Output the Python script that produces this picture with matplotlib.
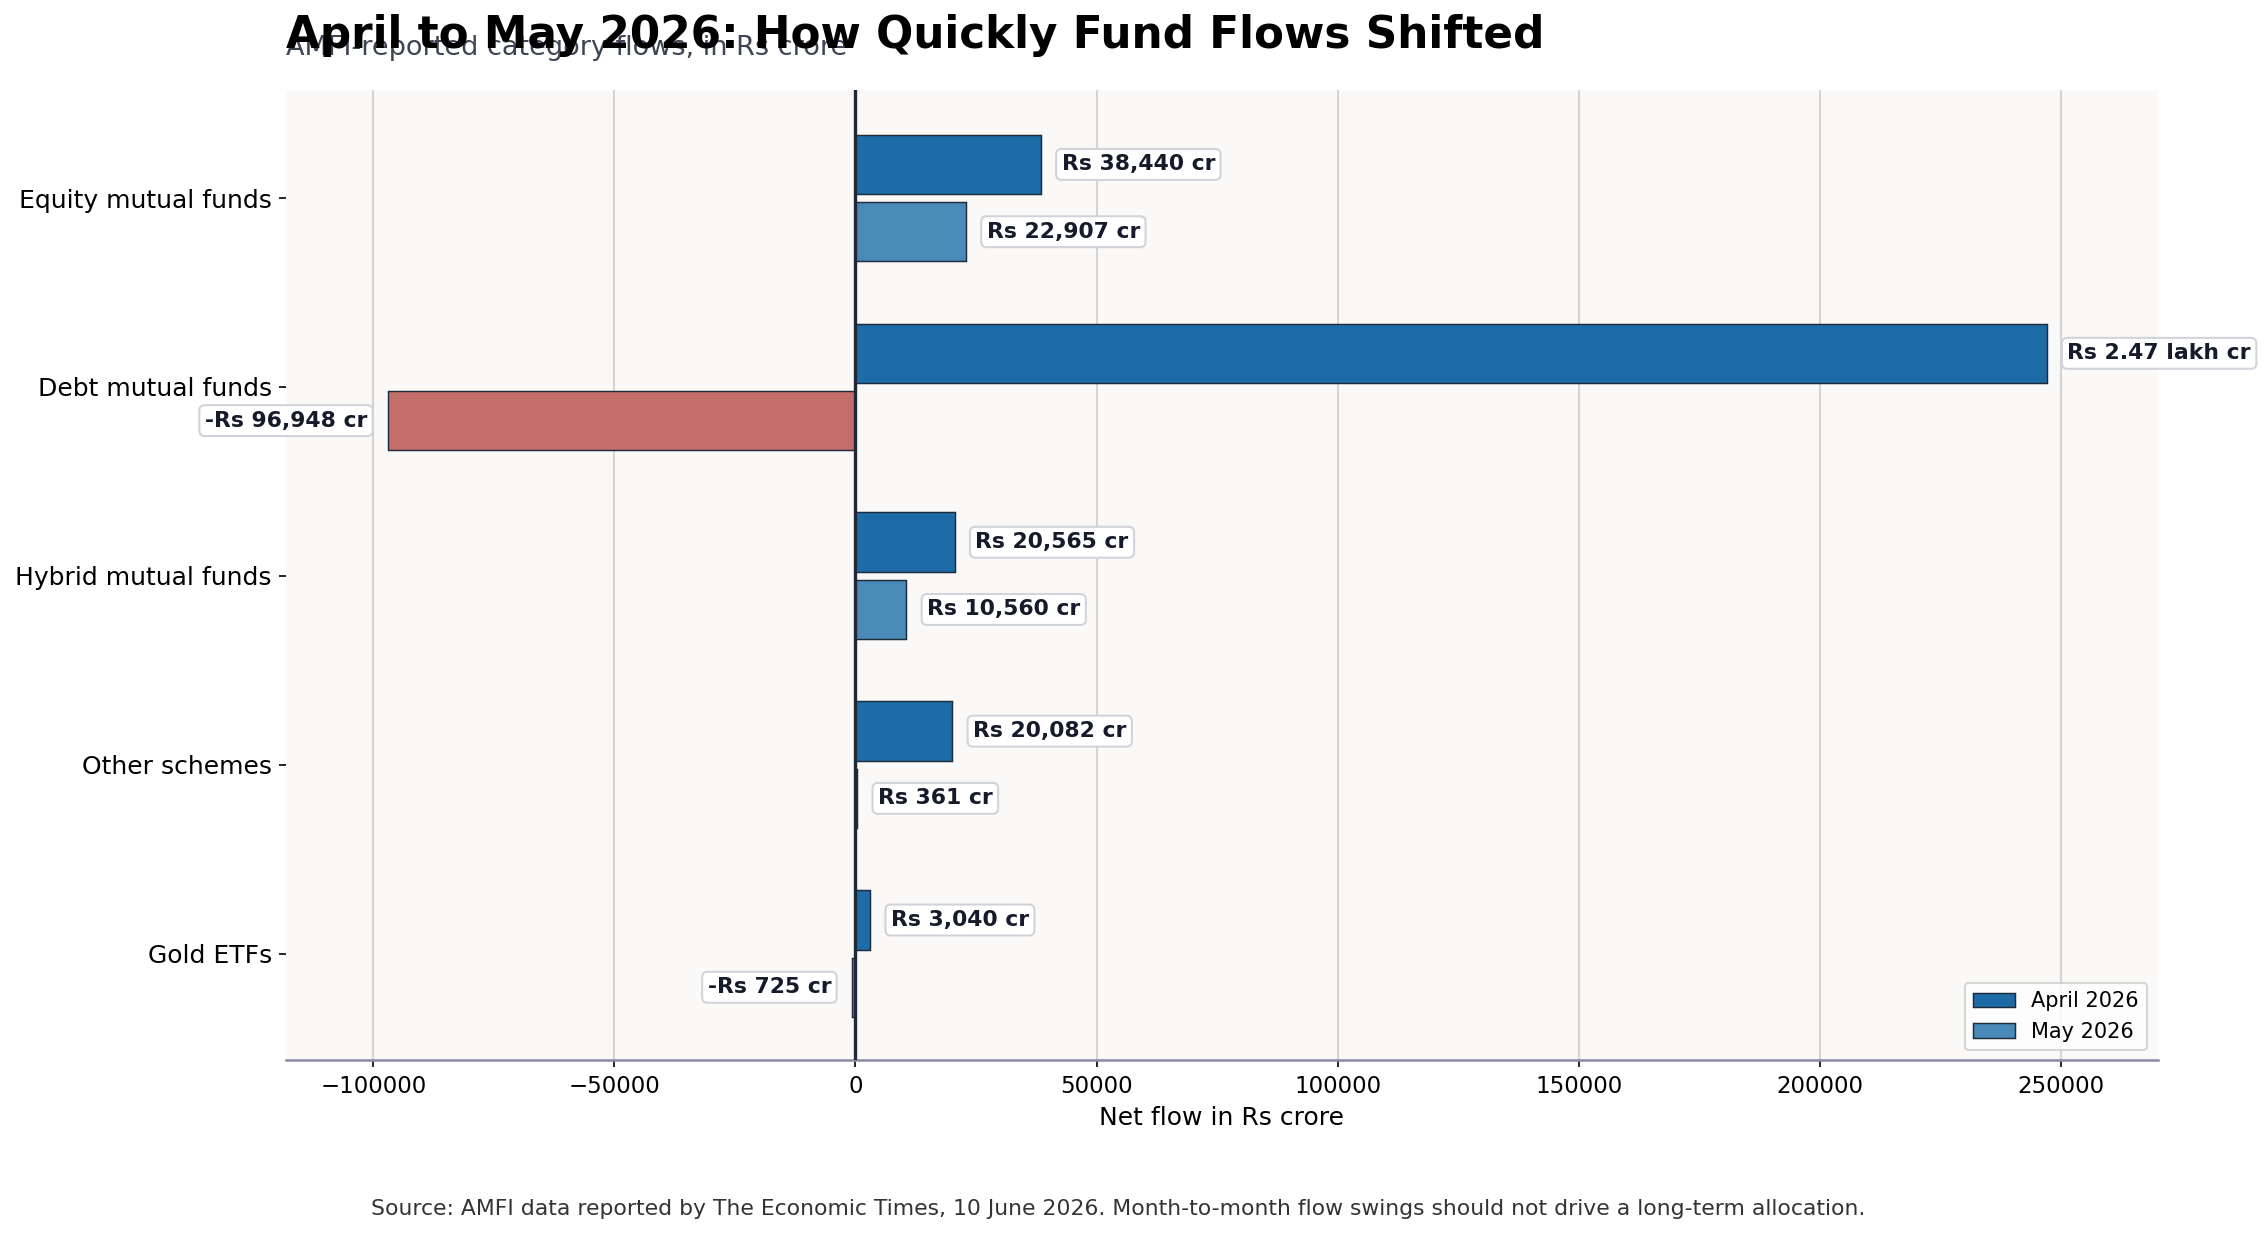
import numpy as np
import matplotlib.pyplot as plt

# Data (Rs crore)
categories = ["Equity mutual funds", "Debt mutual funds", "Hybrid mutual funds",
              "Other schemes", "Gold ETFs"]
april = [38440, 247000, 20565, 20082, 3040]
may = [22907, -96948, 10560, 361, -725]
april_labels = ["Rs 38,440 cr", "Rs 2.47 lakh cr", "Rs 20,565 cr", "Rs 20,082 cr", "Rs 3,040 cr"]
may_labels = ["Rs 22,907 cr", "-Rs 96,948 cr", "Rs 10,560 cr", "Rs 361 cr", "-Rs 725 cr"]

c_april = "#1d6ca8"
c_may = "#4a8ab8"
c_neg = "#c46e6b"
edge = "#1f2a3a"

fig, ax = plt.subplots(figsize=(2264 / 150, 1233 / 150), dpi=150)
fig.subplots_adjust(left=0.1265, right=0.953, top=0.927, bottom=0.14)
ax.set_facecolor("#faf9f8")

y = np.arange(len(categories))
h = 0.315
off = 0.178

ax.barh(y - off, april, height=h, color=c_april, edgecolor=edge, linewidth=0.7,
        label="April 2026", zorder=2)
may_colors = [c_may if v >= 0 else c_neg for v in may]
ax.barh(y + off, may, height=h, color=may_colors, edgecolor=edge, linewidth=0.7,
        label="May 2026", zorder=2)

box = dict(boxstyle="round,pad=0.25", facecolor="white", edgecolor="#d0d4da", linewidth=1.0)
pad = 4300
for yy, vals, labs in [(y - off, april, april_labels), (y + off, may, may_labels)]:
    for yi, v, lab in zip(yy, vals, labs):
        if v >= 0:
            ax.text(v + pad, yi, lab, va="center", ha="left", fontsize=10.5,
                    fontweight="bold", color="#161b2b", bbox=box, zorder=4)
        else:
            ax.text(v - pad, yi, lab, va="center", ha="right", fontsize=10.5,
                    fontweight="bold", color="#161b2b", bbox=box, zorder=4)

ax.axvline(0, color="#1f2937", linewidth=1.6, zorder=3)

ax.set_yticks(y)
ax.set_yticklabels(categories, fontsize=12)
ax.set_ylim(4.565, -0.572)
ax.set_xlim(-118000, 270000)
ax.tick_params(axis="x", labelsize=11)
ax.set_xlabel("Net flow in Rs crore", fontsize=12)

ax.grid(axis="x", color="#d4d4d4", linewidth=1.0, zorder=0)
ax.set_axisbelow(True)
for s in ["top", "right", "left"]:
    ax.spines[s].set_visible(False)
ax.spines["bottom"].set_color("#8a8aa0")
ax.spines["bottom"].set_linewidth(1.2)

ax.legend(loc="lower right", fontsize=10, frameon=True)

ax.set_title("April to May 2026: How Quickly Fund Flows Shifted", loc="left",
             fontsize=21, fontweight="bold", pad=20)
ax.text(0, 1.043, "AMFI-reported category flows, in Rs crore", transform=ax.transAxes,
        fontsize=13, color="#3d4453", ha="left", va="center")

fig.text(0.494, 0.0115, "Source: AMFI data reported by The Economic Times, 10 June 2026. "
         "Month-to-month flow swings should not drive a long-term allocation.",
         ha="center", va="bottom", fontsize=10.5, color="#333333")

fig.savefig("out.png", dpi=150)
